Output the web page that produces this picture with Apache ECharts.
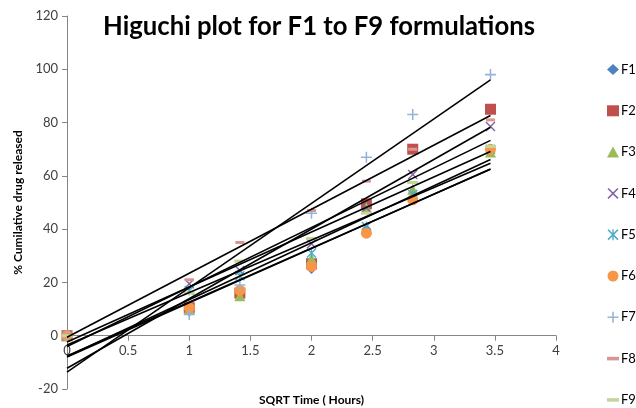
<!DOCTYPE html>
<html>
<head>
<meta charset="utf-8">
<script src="https://cdn.jsdelivr.net/npm/echarts@6/dist/echarts.min.js"></script>
<style>html,body{margin:0;padding:0;background:#fff}#c{width:636px;height:408px}</style>
</head>
<body>
<div id="c"></div>
<script>
const xValues = [0, 1, 1.414, 2, 2.449, 2.828, 3.464];
const seriesNames = ['F1','F2','F3','F4','F5','F6','F7','F8','F9'];
const F1 = [0, 9, 17, 25, 40, 52, 69];
const F2 = [0, 10.5, 16, 27, 49.5, 70, 85];
const F3 = [0, 10, 15, 29, 48, 55, 69];
const F4 = [0, 19.5, 24.5, 34.5, 48, 60.5, 78.5];
const F5 = [0, 17, 22.5, 31, 41, 53, 70];
const F6 = [0, 10.5, 17, 26, 38.5, 51, 70];
const F7 = [0, 8, 19, 46, 67, 83, 98];
const F8 = [0, 21, 35, 47, 58, 70, 81];
const F9 = [0, 16, 28, 36.5, 46, 57.5, 71];
const yTicks = [-20, 0, 20, 40, 60, 80, 100, 120];
const xTicks = [0, 0.5, 1, 1.5, 2, 2.5, 3, 3.5, 4];

const allValues = [F1,F2,F3,F4,F5,F6,F7,F8,F9];
const colors = ['#4F81BD','#C0504D','#9BBB59','#8064A2','#4BACC6','#F79646','#95B3D7','#D99694','#C3D69B'];
const PLUS = 'path://M4.3,0h1.4v10h-1.4zM0,4.3h10v1.4h-10z';
const XS = 'path://M0,1L1,0L10,9L9,10ZM9,0L10,1L1,10L0,9Z';
const AST = 'path://M0,1L1,0L10,9L9,10ZM9,0L10,1L1,10L0,9ZM4.4,0h1.2v10h-1.2z';
const DASH = 'path://M0,0h10v3h-10z';
const symbols = ['diamond','rect','triangle',XS,AST,'circle',PLUS,DASH,DASH];
const sizes = [10,11,11,10,10,11,11,[9,3],[11,3]];

function fit(xs, ys){
  const n = xs.length;
  const mx = xs.reduce((a,b)=>a+b,0)/n, my = ys.reduce((a,b)=>a+b,0)/n;
  let sxx=0, sxy=0;
  for(let i=0;i<n;i++){ sxx += (xs[i]-mx)*(xs[i]-mx); sxy += (xs[i]-mx)*(ys[i]-my); }
  const m = sxy/sxx; return [m, my - m*mx];
}

const series = [];
seriesNames.forEach((name, i) => {
  series.push({
    name: name, type: 'scatter', z: 2,
    symbol: symbols[i], symbolSize: sizes[i],
    itemStyle: {color: colors[i], opacity: 1},
    data: xValues.map((x, j) => [x, allValues[i][j]])
  });
});
seriesNames.forEach((name, i) => {
  const [m, b] = fit(xValues, allValues[i]);
  const x0 = xValues[0], x1 = xValues[xValues.length-1];
  series.push({
    name: name + ' trend', type: 'line', z: 3, symbol: 'none', silent: true,
    lineStyle: {color: '#000', width: 1.6},
    data: [[x0, m*x0 + b], [x1, m*x1 + b]]
  });
});

const gridTop = 16, gridBottomY = 389, yMin = -20, yMax = 120;
const zeroOffset = -(0 - yMin) / (yMax - yMin) * (gridBottomY - gridTop);

const chart = echarts.init(document.getElementById('c'), null, {renderer: 'canvas'});
chart.setOption({
  animation: false,
  backgroundColor: '#fff',
  title: {
    text: 'Higuchi plot for F1 to F9 formulations',
    left: 314, top: 9, textAlign: 'center',
    textStyle: {fontFamily: 'Lato', fontWeight: 'bold', fontSize: 25.7, color: '#000'}
  },
  legend: {
    type: 'plain', orient: 'vertical', left: 602, top: 58, height: 350,
    itemWidth: 12, itemHeight: 11, itemGap: 28.3,
    data: seriesNames,
    textStyle: {fontFamily: 'Lato', fontSize: 13, color: '#000', padding: [0,0,0,-3]}
  },
  grid: {left: 67, right: 80, top: gridTop, bottom: 408 - gridBottomY, containLabel: false, outerBoundsMode: 'none'},
  xAxis: {
    type: 'value', min: 0, max: 4, interval: 0.5, offset: zeroOffset,
    name: 'SQRT Time ( Hours)', nameLocation: 'middle', nameGap: 58,
    nameTextStyle: {fontFamily: 'Lato', fontWeight: 'bold', fontSize: 12, color: '#000'},
    axisLine: {onZero: false, lineStyle: {color: '#868686'}},
    axisTick: {show: true, length: 5, lineStyle: {color: '#868686'}},
    axisLabel: {fontFamily: 'Lato', fontSize: 13, color: '#404040', margin: 9,
      formatter: v => xTicks.includes(v) ? String(v) : ''},
    splitLine: {show: false}
  },
  yAxis: {
    type: 'value', min: yMin, max: yMax, interval: 20,
    name: '% Cumilative drug released', nameLocation: 'middle', nameGap: 43,
    nameTextStyle: {fontFamily: 'Lato', fontWeight: 'bold', fontSize: 12, color: '#000'},
    axisLine: {show: true, onZero: false, lineStyle: {color: '#868686'}},
    axisTick: {show: true, length: 5, lineStyle: {color: '#868686'}},
    axisLabel: {fontFamily: 'Lato', fontSize: 13, color: '#404040', margin: 9,
      formatter: v => yTicks.includes(v) ? String(v) : ''},
    splitLine: {show: false}
  },
  series: series
});
</script>
</body>
</html>
